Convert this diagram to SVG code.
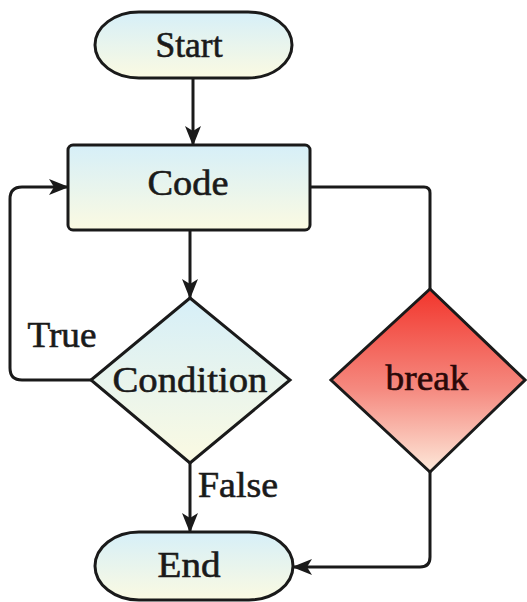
<svg xmlns="http://www.w3.org/2000/svg" width="527" height="602" viewBox="0 0 527 602">
<defs>
<linearGradient id="g1" x1="0" y1="0" x2="0" y2="1">
<stop offset="0" stop-color="#d6eff8"/>
<stop offset="1" stop-color="#fbfae2"/>
</linearGradient>
<linearGradient id="g2" x1="0" y1="0" x2="0" y2="1">
<stop offset="0" stop-color="#f2352c"/>
<stop offset="0.55" stop-color="#f58a80"/>
<stop offset="1" stop-color="#fde9da"/>
</linearGradient>
<marker id="ah" viewBox="0 0 20 16" refX="19" refY="8" markerWidth="20" markerHeight="16" markerUnits="userSpaceOnUse" orient="auto">
<path d="M0,0 L20,8 L0,16 L5,8 Z" fill="#1a1a1a"/>
</marker>
<style>
.n{stroke:#1a1a1a;stroke-width:3;fill:url(#g1)}
.r{stroke:#1a1a1a;stroke-width:3;fill:url(#g2)}
.t{font-family:"Liberation Serif","Times New Roman",serif;font-size:36px;fill:#1a1a1a;text-anchor:middle;stroke:#1a1a1a;stroke-width:0.6}
.c{fill:none;stroke:#1a1a1a;stroke-width:3}
</style>
</defs>
<g id="connectors">
<path class="c" d="M193,78 L193,145" marker-end="url(#ah)"/>
<path class="c" d="M190,230 L190,298" marker-end="url(#ah)"/>
<path class="c" d="M92,380 L22,380 Q10,380 10,368 L10,199 Q10,187 22,187 L68,187" marker-end="url(#ah)"/>
<path class="c" d="M310,187 L424,187 Q430,187 430,193 L430,289"/>
<path class="c" d="M430,472 L430,557 Q430,567 420,567 L293,567" marker-end="url(#ah)"/>
<path class="c" d="M190,463 L190,532" marker-end="url(#ah)"/>
<text class="t" x="62" y="347" textLength="69" lengthAdjust="spacingAndGlyphs">True</text>
<text class="t" x="238" y="497" textLength="80" lengthAdjust="spacingAndGlyphs">False</text>
</g>
<g id="start">
<rect class="n" x="95" y="12" width="197" height="66" rx="44" ry="33"/>
<text class="t" x="189" y="57" textLength="67" lengthAdjust="spacingAndGlyphs">Start</text>
</g>
<g id="code">
<rect class="n" x="68" y="145" width="242" height="85" rx="5"/>
<text class="t" x="188" y="195" textLength="81" lengthAdjust="spacingAndGlyphs">Code</text>
</g>
<g id="condition">
<polygon class="n" points="190,298 290,380 190,463 91,380"/>
<text class="t" x="190" y="392" textLength="155" lengthAdjust="spacingAndGlyphs">Condition</text>
</g>
<g id="break">
<polygon class="r" points="430,289 525,380 430,472 331,380"/>
<text class="t" x="427" y="390" textLength="83" lengthAdjust="spacingAndGlyphs" style="fill:#2a0808;stroke:#2a0808">break</text>
</g>
<g id="end">
<rect class="n" x="95" y="532" width="198" height="68" rx="44" ry="34"/>
<text class="t" x="189" y="577" textLength="63" lengthAdjust="spacingAndGlyphs">End</text>
</g>
</svg>
